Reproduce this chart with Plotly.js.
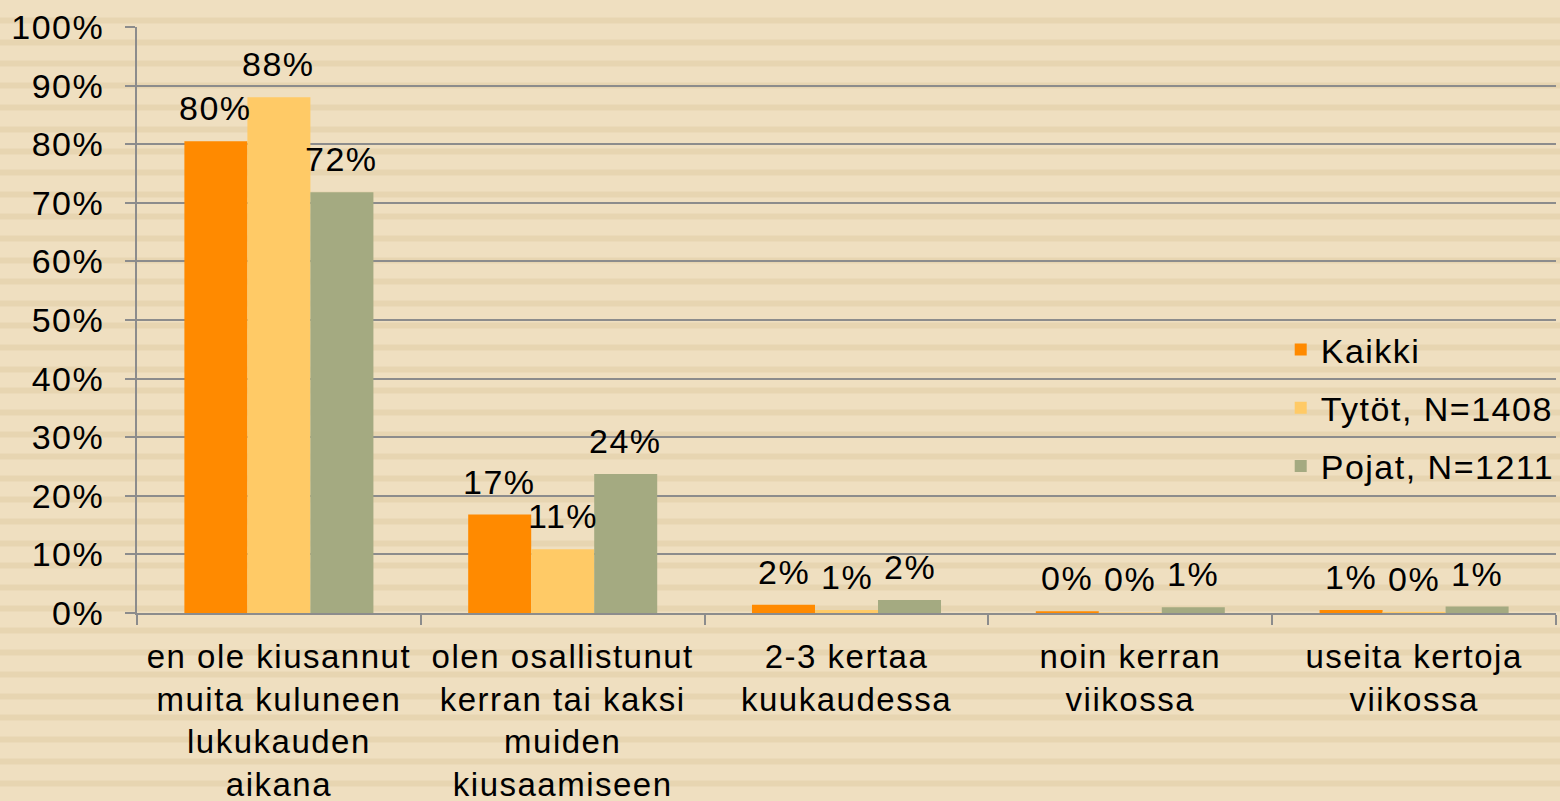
<!DOCTYPE html>
<html><head><meta charset="utf-8">
<script src="https://cdn.plot.ly/plotly-3.0.1.min.js"></script>
<style>
html,body{margin:0;padding:0;width:1560px;height:801px;overflow:hidden;
background:repeating-linear-gradient(to bottom,#EFDFC0 0px,#EFDFC0 15.8px,#E7D5B1 15.8px,#E7D5B1 21.8px);
background-position:0 1.5px;}
#chart{width:1560px;height:801px;}
svg text{letter-spacing:1.5px;}
</style></head><body>
<div id="chart"></div>
<script>
const categories = [
  "en ole kiusannut<br>muita kuluneen<br>lukukauden<br>aikana",
  "olen osallistunut<br>kerran tai kaksi<br>muiden<br>kiusaamiseen",
  "2-3 kertaa<br>kuukaudessa",
  "noin kerran<br>viikossa",
  "useita kertoja<br>viikossa"
];
const kaikki = [80.5, 16.8, 1.4, 0.3, 0.5];
const tytot  = [88.0, 10.9, 0.5, 0.1, 0.2];
const pojat  = [71.8, 23.7, 2.2, 1.0, 1.1];
const kaikkiLabels = ["80%", "17%", "2%", "0%", "1%"];
const tytotLabels  = ["88%", "11%", "1%", "0%", "0%"];
const pojatLabels  = ["72%", "24%", "2%", "1%", "1%"];
const yTickVals = [0,10,20,30,40,50,60,70,80,90,100];
const yTickText = ["0%","10%","20%","30%","40%","50%","60%","70%","80%","90%","100%"];

const font = {family: "Arial", size: 34, color: "#000"};
const xfont = {family: "Arial", size: 33, color: "#000"};
function tr(name, y, color, grp){
  return {type:"bar", name:name, x:categories, y:y,
    marker:{color:color}, legendgroup:grp, hoverinfo:"skip"};
}
const data = [
  tr("Kaikki", kaikki, "#FF8A00", "a"),
  tr("Tytöt, N=1408", tytot, "#FFCA66", "b"),
  tr("Pojat, N=1211", pojat, "#A4AA81", "c")
];
// data labels as annotations, one per bar
const annotations = [];
const series = [[kaikki, kaikkiLabels, -1], [tytot, tytotLabels, 0], [pojat, pojatLabels, 1]];
series.forEach(([vals, labels, k]) => {
  categories.forEach((c, i) => {
    annotations.push({x:c, y:vals[i], text:labels[i], showarrow:false,
      xref:"x", yref:"y", xanchor:"center", yanchor:"middle",
      xshift:k*63, yshift:33, font:font});
  });
});
const layout = {
  width:1560, height:801,
  paper_bgcolor:"rgba(0,0,0,0)", plot_bgcolor:"rgba(0,0,0,0)",
  margin:{l:137, r:4, t:27, b:188, autoexpand:false},
  font:font,
  barmode:"group", bargap:0.334, bargroupgap:0,
  annotations:annotations,
  xaxis:{showline:true, linecolor:"#8C8C8C", linewidth:2, ticks:"outside",
    tickcolor:"#8C8C8C", ticklen:10, tickwidth:2, tickson:"boundaries",
    ticklabelstandoff:13, tickfont:xfont, fixedrange:true, automargin:false},
  yaxis:{range:[0,100], tickvals:yTickVals, ticktext:yTickText,
    showgrid:true, gridcolor:"#8C8C8C", gridwidth:2,
    showline:true, linecolor:"#8C8C8C", linewidth:2,
    ticks:"outside", tickcolor:"#8C8C8C", ticklen:10, tickwidth:2,
    ticklabelstandoff:14, tickfont:font, zeroline:false, fixedrange:true, automargin:false},
  showlegend:true,
  legend:{x:0.806, y:0.35, xanchor:"left", yanchor:"middle",
    bgcolor:"rgba(0,0,0,0)", font:font, traceorder:"grouped", tracegroupgap:11,
    itemwidth:30}
};
Plotly.newPlot("chart", data, layout, {displayModeBar:false, staticPlot:true});
</script></body></html>
